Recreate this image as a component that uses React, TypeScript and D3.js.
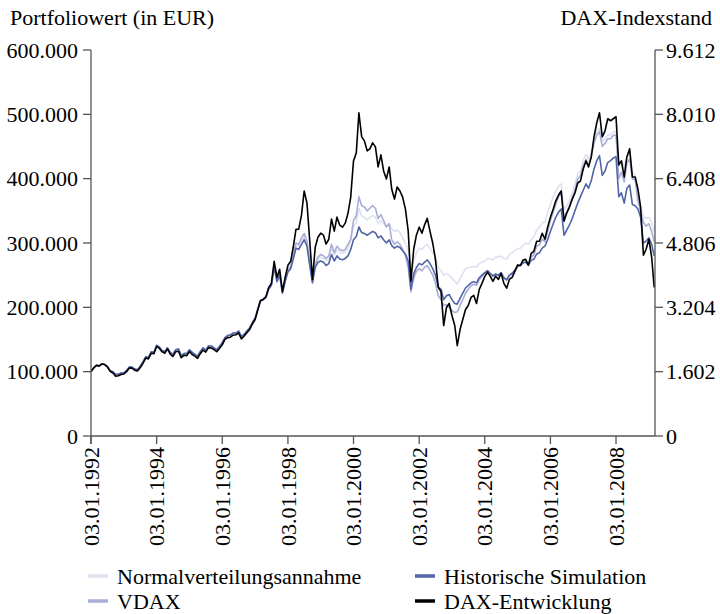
import React from "react";
import * as d3 from "d3";

// monthly observations (first trading days), Jan 1992 .. Mar 2009
const START = new Date(1992, 0, 3);
const END = new Date(2009, 2, 12);
const N_MONTHS = 207;

// DAX index level
const dax = [
  1603, 1700, 1760, 1740, 1795, 1780, 1720, 1610, 1570, 1490, 1500, 1530,
  1545, 1600, 1690, 1690, 1640, 1620, 1700, 1810, 1940, 1920, 2060, 2050,
  2230, 2180, 2100, 2060, 2170, 2040, 1980, 2100, 2110, 1950, 2010, 2000,
  2100, 2030, 1990, 1935, 2050, 2140, 2090, 2200, 2190, 2150, 2100, 2180,
  2270, 2410, 2450, 2460, 2510, 2520, 2570, 2420, 2490, 2570, 2650, 2790,
  2900, 3150, 3370, 3400, 3460, 3700, 3800, 4350, 3950, 4150, 3600, 3950,
  4250, 4350, 4700, 5150, 5150, 5500, 6100, 5800, 4850, 3900, 4700, 4950,
  5050, 5000, 4780, 4900, 5400, 5100, 5450, 5250, 5200, 5300, 5550, 5950,
  6850, 7050, 8050, 7450, 7350, 7100, 7150, 7300, 7200, 6700, 7000, 6600,
  6400, 6700, 6150, 5900, 6200, 6100, 5950, 5650, 5100, 3850, 4650, 5000,
  5200, 5050, 5250, 5420, 5100, 4800, 4400, 3700, 3600, 2750, 3200, 3300,
  3000, 2750, 2250, 2650, 2900, 3150, 3250, 3450, 3500, 3300, 3650, 3800,
  3970, 4080, 3980, 3850, 3980, 3900, 4050, 3800, 3680, 3900, 3950, 4100,
  4260, 4250, 4380, 4400, 4250, 4550, 4600, 4850, 4850, 5050, 4900, 5200,
  5450, 5650, 5850, 6000, 6100, 5350, 5550, 5700, 5900, 6050, 6300, 6350,
  6650, 6850, 6700, 6950, 7450, 7800, 8050, 7450, 7600, 7900, 7850, 7900,
  7950, 6750, 6850, 6450, 6950, 7150, 6450, 6450, 6150, 5700, 4500, 4650,
  4900, 4450, 3700,
];

// portfolio values in thousand EUR
const historisch = [
  100, 106, 110, 109, 112, 111, 108, 102, 100, 96, 96, 98,
  98, 102, 107, 107, 104, 103, 108, 115, 123, 122, 131, 130,
  141, 138, 133, 131, 137, 130, 127, 134, 135, 125, 128, 128,
  134, 130, 127, 124, 131, 137, 133, 140, 140, 137, 134, 139,
  145, 153, 156, 157, 160, 160, 163, 155, 158, 163, 168, 176,
  183, 198, 210, 212, 216, 228, 234, 262, 240, 250, 222, 240,
  255, 260, 275, 292, 290, 298, 305, 295, 265, 238, 262, 270,
  272, 270, 265, 268, 282, 272, 280, 275, 274, 276, 280, 290,
  305, 310, 325, 316, 315, 312, 315, 318, 316, 308, 311, 305,
  300, 305, 296, 292, 295, 293, 288, 283, 272, 228, 252, 262,
  268, 266, 270, 274, 268, 260, 250, 232, 228, 212, 218, 220,
  212, 206, 205, 214, 222, 230, 234, 238, 240, 238, 246, 250,
  254, 257, 253, 249, 252, 250, 254, 246, 243, 250, 253, 258,
  264, 265, 269, 270, 266, 273, 275, 283, 285, 292, 295, 305,
  318, 330, 340, 348, 353, 312, 320, 328, 338, 350, 362, 372,
  382, 392, 385, 397, 415, 428, 436, 405, 412, 425, 428, 432,
  434, 372, 378, 362, 385, 390, 360, 358, 353, 340, 300, 303,
  308, 298, 280,
];

const vdax = [
  100, 106, 110, 109, 112, 111, 108, 101, 99, 95, 96, 98,
  98, 102, 107, 107, 104, 103, 108, 115, 123, 122, 131, 130,
  141, 138, 133, 131, 137, 130, 127, 134, 135, 125, 128, 128,
  134, 130, 127, 124, 131, 137, 133, 140, 140, 137, 134, 139,
  145, 153, 156, 157, 160, 160, 163, 155, 158, 163, 168, 176,
  183, 198, 211, 213, 217, 230, 236, 265, 241, 252, 223, 242,
  258, 264, 280, 300, 298, 308, 315, 303, 268, 240, 268, 278,
  282, 280, 276, 280, 298, 285, 295, 290, 288, 290, 298, 305,
  335, 342, 372, 358, 356, 350, 354, 358, 354, 338, 344, 335,
  325, 330, 305, 298, 302, 298, 290, 280, 262, 224, 245, 256,
  260, 257, 262, 265, 258, 250, 238, 218, 212, 203, 204, 200,
  195, 192, 193, 203, 212, 222, 228, 234, 236, 234, 243, 248,
  253, 256, 252, 248, 251, 249, 253, 245, 242, 249, 252, 257,
  264, 265, 270, 272, 267, 278, 282, 295, 297, 306, 302, 318,
  335, 348, 360, 372, 378, 340, 348, 358, 370, 382, 400, 405,
  420, 430, 420, 435, 455, 468, 473, 450, 455, 462, 462, 467,
  468, 400, 410, 395, 425, 430, 400, 398, 365, 348, 332, 326,
  330, 318, 302,
];

const normal = [
  100, 106, 110, 109, 112, 111, 108, 101, 99, 95, 96, 98,
  98, 102, 107, 107, 104, 103, 108, 115, 123, 122, 131, 130,
  141, 138, 133, 131, 137, 130, 127, 134, 135, 125, 128, 128,
  134, 130, 127, 124, 131, 137, 133, 140, 140, 137, 134, 139,
  145, 153, 156, 157, 160, 160, 163, 155, 158, 163, 168, 176,
  183, 198, 211, 213, 217, 230, 236, 264, 242, 252, 223, 242,
  257, 263, 278, 297, 295, 304, 310, 300, 268, 241, 266, 274,
  278, 276, 272, 276, 292, 281, 290, 285, 284, 286, 292, 305,
  325, 332, 354, 342, 340, 336, 340, 343, 340, 330, 335, 330,
  325, 330, 322, 318, 320, 316, 308, 300, 288, 255, 272, 285,
  292, 290, 295, 298, 292, 285, 280, 262, 258, 250, 252, 250,
  245, 240, 236, 245, 252, 260, 262, 262, 264, 262, 268, 270,
  272, 276, 275, 274, 278, 278, 280, 276, 275, 282, 285, 288,
  291, 292, 296, 300, 298, 305, 310, 320, 325, 332, 332, 348,
  360, 372, 380, 388, 392, 352, 358, 366, 378, 390, 408, 412,
  428, 438, 430, 442, 460, 474, 478, 458, 462, 468, 468, 472,
  474, 420, 428, 418, 435, 440, 410, 405, 373, 355, 342, 338,
  340, 332, 318,
];

const leftTicks = [0, 100000, 200000, 300000, 400000, 500000, 600000];
const rightTicks = [0, 1602, 3204, 4806, 6408, 8010, 9612];
const xTickLabels = [
  "03.01.1992", "03.01.1994", "03.01.1996", "03.01.1998", "03.01.2000",
  "03.01.2002", "03.01.2004", "03.01.2006", "03.01.2008",
];

const seriesNames = ["Normalverteilungsannahme", "VDAX", "Historische Simulation", "DAX-Entwicklung"];
const seriesColors = ["#dfe1f0", "#a8aed6", "#5264a8", "#000000"];

const FONT = "'Liberation Serif', 'Times New Roman', serif";
const FS = 22;
const AXIS = "#555";

const de = d3.formatLocale({ decimal: ",", thousands: ".", grouping: [3], currency: ["", " €"] });
const fmt = de.format(",d");

export default function App() {
  const W = 720, H = 614;
  const L = 91, R = 655, T = 50, B = 436;
  const dates = d3.range(N_MONTHS).map((i) => new Date(1992, i, 3));
  const x = d3.scaleTime().domain([START, END]).range([L, R]);
  const yL = d3.scaleLinear().domain([0, 600000]).range([B, T]);
  const yR = d3.scaleLinear().domain([0, 9612]).range([B, T]);
  const parse = d3.timeParse("%d.%m.%Y");

  const lineK = d3.line<number>().x((_, i) => x(dates[i])).y((v) => yL(v * 1000));
  const lineD = d3.line<number>().x((_, i) => x(dates[i])).y((v) => yR(v));

  const paths = [
    { d: lineK(normal), c: seriesColors[0] },
    { d: lineK(vdax), c: seriesColors[1] },
    { d: lineK(historisch), c: seriesColors[2] },
    { d: lineD(dax), c: seriesColors[3] },
  ];

  const legendPos = [
    { x: 88, y: 576 }, { x: 88, y: 601 }, { x: 415, y: 576 }, { x: 415, y: 601 },
  ];

  return (
    <svg width={W} height={H} style={{ position: "absolute", left: 0, top: 0, background: "#fff" }}
      fontFamily={FONT} fontSize={FS}>
      <text x={10} y={25} fill="#000">Portfoliowert (in EUR)</text>
      <text x={712} y={25} textAnchor="end" fill="#000">DAX-Indexstand</text>

      {paths.map((p, i) => (
        <path key={i} d={p.d || ""} fill="none" stroke={p.c} strokeWidth={1.6} strokeLinejoin="round" />
      ))}

      {/* left axis */}
      <line x1={L} x2={L} y1={T} y2={B + 8} stroke={AXIS} strokeWidth={1.3} />
      {leftTicks.map((t) => (
        <g key={"l" + t}>
          <line x1={L - 8} x2={L} y1={yL(t)} y2={yL(t)} stroke={AXIS} strokeWidth={1.3} />
          <text x={L - 13} y={yL(t)} dy="0.35em" textAnchor="end">{fmt(t)}</text>
        </g>
      ))}
      {/* right axis */}
      <line x1={R} x2={R} y1={T} y2={B} stroke={AXIS} strokeWidth={1.3} />
      {rightTicks.map((t) => (
        <g key={"r" + t}>
          <line x1={R} x2={R + 8} y1={yR(t)} y2={yR(t)} stroke={AXIS} strokeWidth={1.3} />
          <text x={R + 11} y={yR(t)} dy="0.35em" textAnchor="start">{fmt(t)}</text>
        </g>
      ))}
      {/* bottom axis */}
      <line x1={L} x2={R} y1={B} y2={B} stroke={AXIS} strokeWidth={1.3} />
      {xTickLabels.map((lab) => {
        const xx = x(parse(lab) as Date);
        return (
          <g key={lab}>
            <line x1={xx} x2={xx} y1={B} y2={B + 8} stroke={AXIS} strokeWidth={1.3} />
            <text transform={`translate(${xx},${B + 11}) rotate(-90)`} dy="0.35em" textAnchor="end">{lab}</text>
          </g>
        );
      })}

      {/* legend */}
      {seriesNames.map((n, i) => (
        <g key={n} transform={`translate(${legendPos[i].x},${legendPos[i].y})`}>
          <line x1={0} x2={20} y1={0} y2={0} stroke={seriesColors[i]} strokeWidth={3.5} />
          <text x={29} y={0} dy="0.35em">{n}</text>
        </g>
      ))}
    </svg>
  );
}
